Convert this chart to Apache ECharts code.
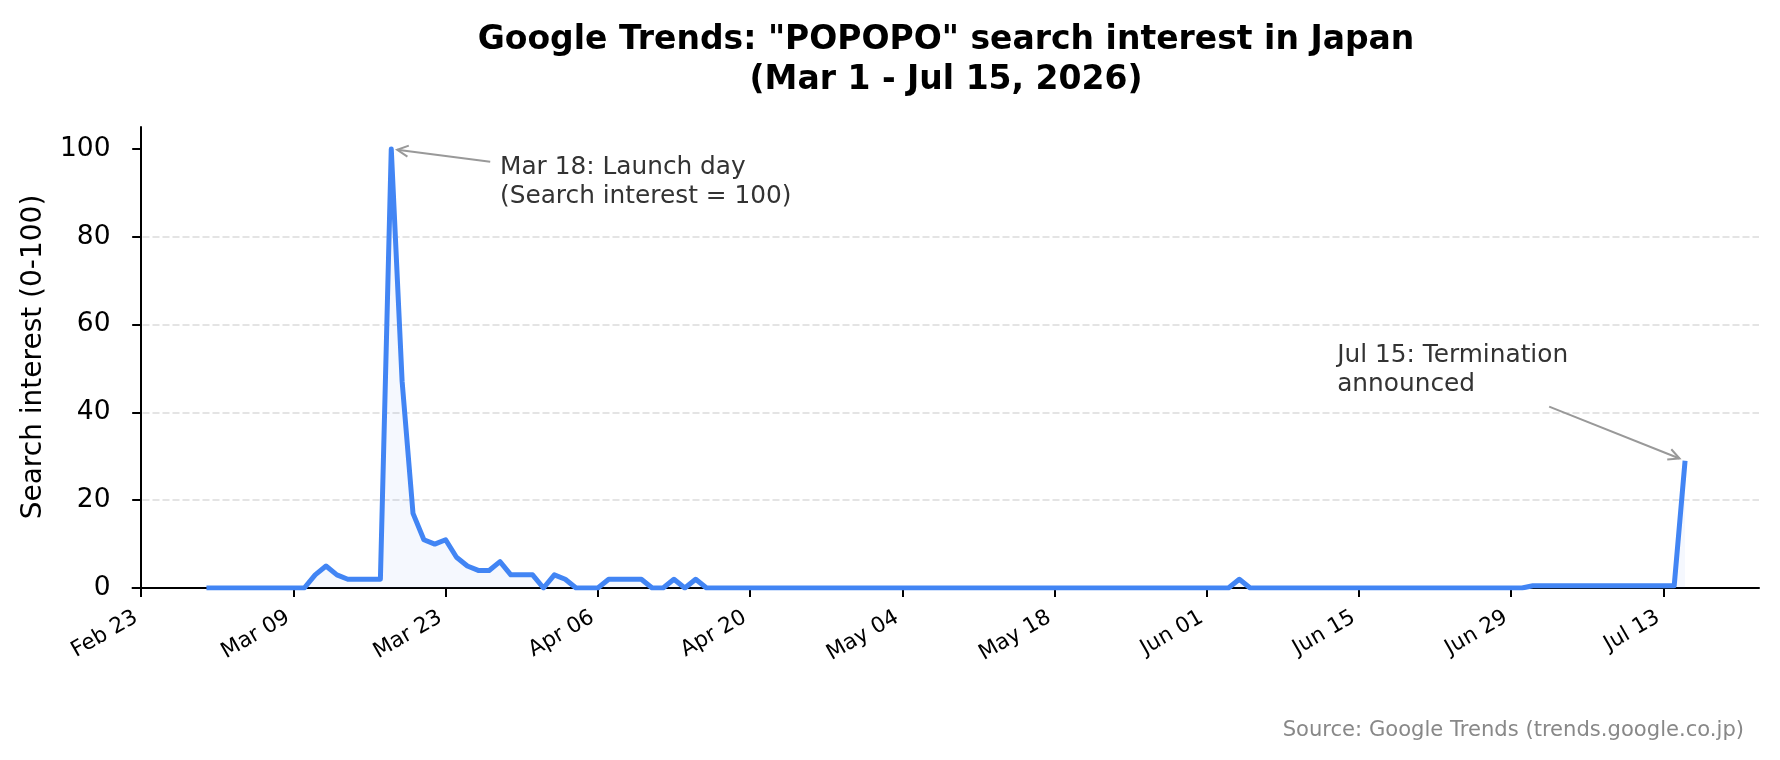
<!DOCTYPE html>
<html><head><meta charset="utf-8">
<script src="https://cdn.jsdelivr.net/npm/echarts@6/dist/echarts.min.js"></script>
<style>html,body{margin:0;padding:0;background:#fff;}#c{width:1780px;height:760px;}</style>
</head><body><div id="c"></div>
<script>
// ---- data ----
const START_DATE = '2026-03-01';
const END_DATE = '2026-07-15';
const marValues = [0,0,0,0,0,0,0,0,0,0, 3,5,3,2,2,2,2,100,47,17, 11,10,11,7,5,4,4,6,3,3, 3];
const aprValues = [0,3,2,0,0,0,2,2,2,2, 0,0,2,0,2,0,0,0,0,0, 0,0,0,0,0,0,0,0,0,0];
const mayValues = [0,0,0,0,0,0,0,0,0,0, 0,0,0,0,0,0,0,0,0,0, 0,0,0,0,0,0,0,0,0,0, 0];
const junValues = [0,0,0,2,0,0,0,0,0,0, 0,0,0,0,0,0,0,0,0,0, 0,0,0,0,0,0,0,0,0,0];
const julValues = [0.5,0.5,0.5,0.5,0.5,0.5,0.5,0.5,0.5,0.5, 0.5,0.5,0.5,0.5,29];
const xTickDates = ['2026-02-23','2026-03-09','2026-03-23','2026-04-06','2026-04-20','2026-05-04','2026-05-18','2026-06-01','2026-06-15','2026-06-29','2026-07-13'];
const xTickLabels = ['Feb 23','Mar 09','Mar 23','Apr 06','Apr 20','May 04','May 18','Jun 01','Jun 15','Jun 29','Jul 13'];
const yTickValues = [0,20,40,60,80,100];
const yTickLabels = ['0','20','40','60','80','100'];
const titleLines = ['Google Trends: "POPOPO" search interest in Japan', '(Mar 1 - Jul 15, 2026)'];
const yAxisTitle = 'Search interest (0-100)';
const sourceText = 'Source: Google Trends (trends.google.co.jp)';
const annotations = [
  { lines: ['Mar 18: Launch day', '(Search interest = 100)'], target: ['2026-03-18', 100], textAt: ['2026-03-28', 92.5], tailAt: [32.1, 97.1] },
  { lines: ['Jul 15: Termination', 'announced'], target: ['2026-07-15', 29], textAt: ['2026-06-13', 49.6], tailAt: [129.5, 41.3] }
];

// ---- helpers ----
const DAY0 = Date.UTC(2026, 1, 23);
function dayNum(s) { const p = s.split('-').map(Number); return (Date.UTC(p[0], p[1]-1, p[2]) - DAY0) / 86400000; }
const values = marValues.concat(aprValues, mayValues, junValues, julValues);
const startDay = dayNum(START_DATE), endDay = dayNum(END_DATE);
const seriesData = values.map((v, i) => [startDay + i, v]);
const xTickValues = xTickDates.map(dayNum);
const span = endDay - startDay;

const FONT = "'DejaVu Sans', 'Noto Sans', sans-serif";
const chart = echarts.init(document.getElementById('c'), null, { renderer: 'canvas' });
chart.setOption({
  animation: false,
  backgroundColor: '#fff',
  grid: { left: 132.5, right: 21, top: 127, bottom: 172, containLabel: false },
  xAxis: {
    type: 'value',
    min: startDay - span * 0.05,
    max: endDay + span * 0.05,
    axisLine: { show: true, lineStyle: { color: '#000', width: 2 } },
    axisTick: { show: true, length: 9, lineStyle: { color: '#000', width: 2 }, customValues: xTickValues },
    axisLabel: {
      show: true, customValues: xTickValues, rotate: 30, margin: 25,
      fontFamily: FONT, fontSize: 21.6, color: '#000', padding: [0, 6, 0, 0],
      formatter: v => { const i = xTickValues.indexOf(v); return i >= 0 ? xTickLabels[i] : ''; }
    },
    splitLine: { show: false }
  },
  yAxis: {
    type: 'value', min: 0, max: 105, interval: 20,
    axisLine: { show: true, lineStyle: { color: '#000', width: 2 } },
    axisTick: { show: true, length: 9, lineStyle: { color: '#000', width: 2 }, customValues: yTickValues },
    axisLabel: {
      show: true, customValues: yTickValues, margin: 22,
      fontFamily: FONT, fontSize: 26.5, color: '#000',
      formatter: v => { const i = yTickValues.indexOf(v); return i >= 0 ? yTickLabels[i] : ''; }
    },
    splitLine: { show: true, showMinLine: false, showMaxLine: false, lineStyle: { color: '#e4e4e4', width: 1.9, type: [7, 3] } }
  },
  series: [{
    type: 'line', data: seriesData, showSymbol: false, symbol: 'none',
    lineStyle: { color: '#4285F4', width: 5, join: 'round' },
    itemStyle: { color: '#4285F4' },
    areaStyle: { color: 'rgba(66,133,244,0.08)' },
    z: 3
  }]
});

function px(x, y) { return chart.convertToPixel({ gridIndex: 0 }, [x, y]); }
const graphics = [];
graphics.push({ type: 'text', x: 946, y: 40, style: { text: titleLines[0], font: 'bold 33px ' + FONT, fill: '#000', align: 'center', verticalAlign: 'middle' } });
graphics.push({ type: 'text', x: 946, y: 80, style: { text: titleLines[1], font: 'bold 33px ' + FONT, fill: '#000', align: 'center', verticalAlign: 'middle' } });
graphics.push({ type: 'text', x: 34, y: 357, rotation: Math.PI / 2, style: { text: yAxisTitle, font: '28px ' + FONT, fill: '#000', align: 'center', verticalAlign: 'middle' } });
graphics.push({ type: 'text', x: 1744, y: 730.5, style: { text: sourceText, font: '21.1px ' + FONT, fill: '#888', align: 'right', verticalAlign: 'middle' } });

annotations.forEach(a => {
  const tp = px(dayNum(a.target[0]), a.target[1]);
  const tail = px(a.tailAt[0], a.tailAt[1]);
  const tx = px(dayNum(a.textAt[0]), a.textAt[1]);
  const dx = tp[0] - tail[0], dy = tp[1] - tail[1];
  const L = Math.sqrt(dx * dx + dy * dy), ux = dx / L, uy = dy / L;
  const tip = [tp[0] - ux * 6, tp[1] - uy * 6];
  const hl = 11, hw = 5.5;
  const b = [tip[0] - ux * hl, tip[1] - uy * hl];
  const p1 = [b[0] - uy * hw, b[1] + ux * hw], p2 = [b[0] + uy * hw, b[1] - ux * hw];
  graphics.push({ type: 'polyline', shape: { points: [tail, tip] }, style: { stroke: '#999', lineWidth: 2, fill: null }, z: 10 });
  graphics.push({ type: 'polyline', shape: { points: [p1, tip, p2] }, style: { stroke: '#999', lineWidth: 2, fill: null, lineJoin: 'miter' }, z: 10 });
  graphics.push({ type: 'text', x: tx[0], y: tx[1], style: { text: a.lines.join('\n'), font: '24.8px ' + FONT, fill: '#333', align: 'left', verticalAlign: 'middle', lineHeight: 29.5 }, z: 10 });
});
chart.setOption({ graphic: graphics });
</script>
</body></html>
